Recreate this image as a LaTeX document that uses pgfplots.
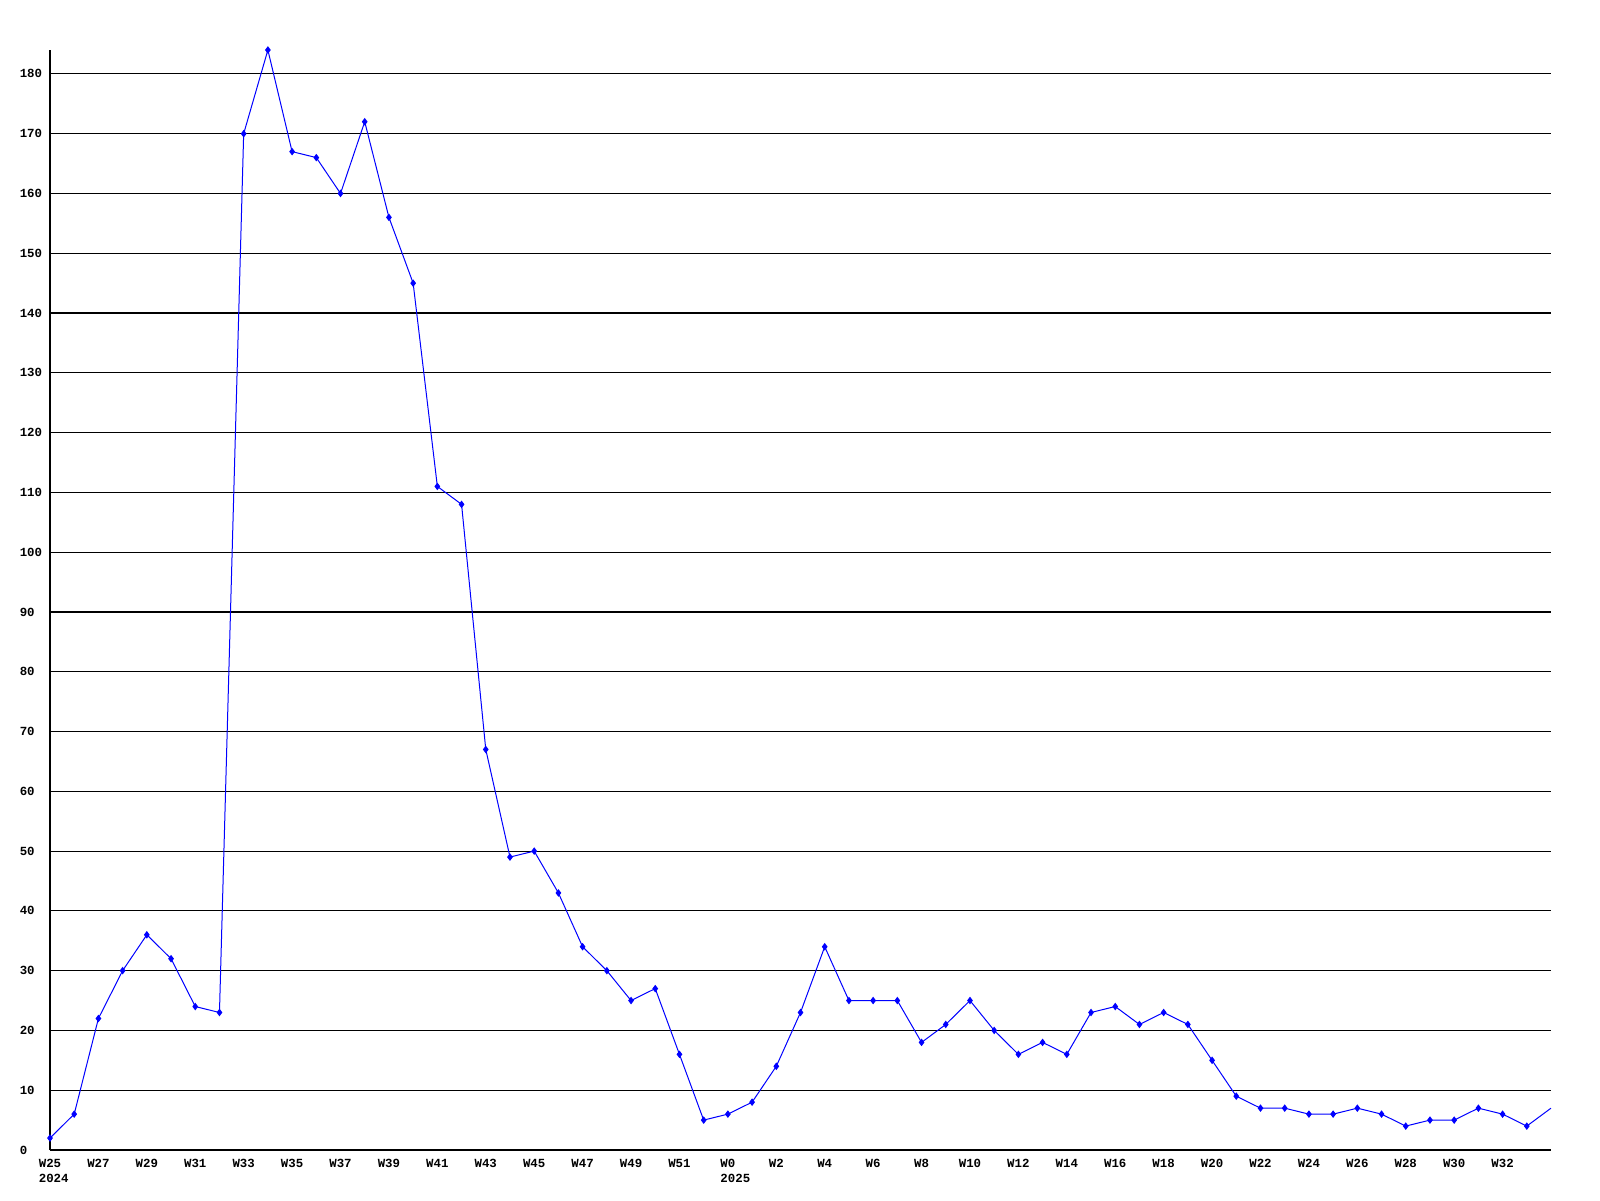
\documentclass[border=0pt]{standalone}
\usepackage{pgfplots}
\pgfplotsset{compat=1.18}
\usepackage{fontspec}
\setmainfont{Liberation Mono}
\begin{document}
\begin{tikzpicture}
\begin{axis}[
  scale only axis,
  width=750.5pt, height=550pt,
  xmin=0, xmax=62, ymin=0, ymax=184,
  axis lines=left,
  axis line style={-, line width=0.6pt, black},
  major tick length=0pt,
  ytick={0,10,...,180},
  ymajorgrids,
  grid style={black, line width=0.55pt},
  xtick={0,2,...,60},
  xticklabels={{W25\\\rlap{2024}\phantom{W25}},W27,W29,W31,W33,W35,W37,W39,W41,W43,W45,W47,W49,W51,{W0\\\rlap{2025}\phantom{W0}},W2,W4,W6,W8,W10,W12,W14,W16,W18,W20,W22,W24,W26,W28,W30,W32},
  xticklabel style={align=center, font=\fontsize{6.2}{7.5}\selectfont\bfseries, anchor=north, yshift=-1pt},
  yticklabel style={font=\fontsize{6.2}{7.5}\selectfont\bfseries, anchor=west, inner sep=0pt, xshift=-15.3pt},
  /pgf/number format/assume math mode=true,
  clip=true,
]
\addplot[blue, line width=0.5pt, mark=diamond*, mark size=1.5pt, mark options={fill=blue, draw=blue},
  mark indices={1,...,62}] coordinates {
(0,2) (1,6) (2,22) (3,30) (4,36) (5,32) (6,24) (7,23) (8,170) (9,184)
(10,167) (11,166) (12,160) (13,172) (14,156) (15,145) (16,111) (17,108) (18,67) (19,49)
(20,50) (21,43) (22,34) (23,30) (24,25) (25,27) (26,16) (27,5) (28,6) (29,8)
(30,14) (31,23) (32,34) (33,25) (34,25) (35,25) (36,18) (37,21) (38,25) (39,20)
(40,16) (41,18) (42,16) (43,23) (44,24) (45,21) (46,23) (47,21) (48,15) (49,9)
(50,7) (51,7) (52,6) (53,6) (54,7) (55,6) (56,4) (57,5) (58,5) (59,7)
(60,6) (61,4) (62,7)
};
\end{axis}
\pgfresetboundingbox
\path[use as bounding box] (-25pt,-25pt) rectangle (775pt,575pt);
\end{tikzpicture}
\end{document}
